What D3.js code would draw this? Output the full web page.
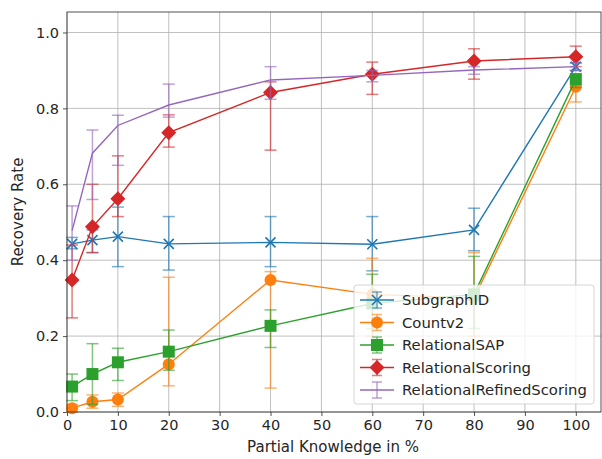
<!doctype html>
<html>
<head>
<meta charset="utf-8">
<style>
body { margin: 0; background: white; }
text { font-family: "DejaVu Sans", sans-serif; fill: #262626; }
</style>
<script src="https://cdnjs.cloudflare.com/ajax/libs/d3/7.8.5/d3.min.js"></script>
</head>
<body>
<div id="chart"></div>
<script>
var knowledge = [1, 5, 10, 20, 40, 60, 80, 100];
var xTicks = [0, 10, 20, 30, 40, 50, 60, 70, 80, 90, 100];
var yTicks = [0.0, 0.2, 0.4, 0.6, 0.8, 1.0];

// mean, upper and lower end of the error bar
var subgraphID    = [0.443, 0.453, 0.462, 0.443, 0.447, 0.442, 0.480, 0.910];
var subgraphIDHi  = [0.460, 0.480, 0.540, 0.515, 0.515, 0.515, 0.537, 0.920];
var subgraphIDLo  = [0.430, 0.420, 0.383, 0.374, 0.383, 0.372, 0.425, 0.900];

var countv2       = [0.010, 0.027, 0.033, 0.126, 0.348, 0.310, 0.300, 0.857];
var countv2Hi     = [0.020, 0.045, 0.050, 0.355, 0.370, 0.405, 0.420, 0.880];
var countv2Lo     = [0.000, 0.010, 0.015, 0.069, 0.063, 0.200, 0.200, 0.817];

var relSAP        = [0.067, 0.100, 0.131, 0.159, 0.227, 0.286, 0.310, 0.877];
var relSAPHi      = [0.100, 0.180, 0.168, 0.216, 0.269, 0.363, 0.410, 0.890];
var relSAPLo      = [0.030, 0.020, 0.083, 0.110, 0.170, 0.220, 0.220, 0.855];

var relScoring    = [0.348, 0.488, 0.562, 0.736, 0.842, 0.890, 0.925, 0.936];
var relScoringHi  = [0.440, 0.600, 0.675, 0.783, 0.870, 0.922, 0.957, 0.964];
var relScoringLo  = [0.248, 0.420, 0.515, 0.698, 0.690, 0.837, 0.877, 0.910];

var relRefined    = [0.478, 0.682, 0.755, 0.809, 0.875, 0.887, 0.901, 0.910];
var relRefinedHi  = [0.543, 0.743, 0.782, 0.864, 0.910, 0.900, 0.910, 0.920];
var relRefinedLo  = [0.400, 0.560, 0.650, 0.777, 0.824, 0.870, 0.890, 0.900];

var names  = ["SubgraphID", "Countv2", "RelationalSAP", "RelationalScoring", "RelationalRefinedScoring"];
var colors = ["#1f77b4", "#ff7f0e", "#2ca02c", "#d62728", "#9467bd"];
var shapes = ["x", "circle", "square", "diamond", "none"];
var means  = [subgraphID, countv2, relSAP, relScoring, relRefined];
var highs  = [subgraphIDHi, countv2Hi, relSAPHi, relScoringHi, relRefinedHi];
var lows   = [subgraphIDLo, countv2Lo, relSAPLo, relScoringLo, relRefinedLo];

var width = 602, height = 459;
var pLeft = 67, pTop = 12, pRight = 601, pBottom = 412;

var svg = d3.select("#chart").append("svg")
	.attr("width", width).attr("height", height);

var x = d3.scaleLinear().domain([0, 104.95]).range([pLeft, pRight]);
var y = d3.scaleLinear().domain([0, 1.054]).range([pBottom, pTop]);

// grid
svg.append("g").selectAll("line").data(xTicks).enter().append("line")
	.attr("x1", function(d) { return x(d); }).attr("x2", function(d) { return x(d); })
	.attr("y1", pTop).attr("y2", pBottom)
	.attr("stroke", "#b0b0b0").attr("stroke-width", 0.8);
svg.append("g").selectAll("line").data(yTicks).enter().append("line")
	.attr("y1", function(d) { return y(d); }).attr("y2", function(d) { return y(d); })
	.attr("x1", pLeft).attr("x2", pRight)
	.attr("stroke", "#b0b0b0").attr("stroke-width", 0.8);

// axes
var xAxis = svg.append("g").attr("transform", "translate(0," + pBottom + ")")
	.call(d3.axisBottom(x).tickValues(xTicks).tickSize(4).tickPadding(4).tickFormat(d3.format("d")));
var yAxis = svg.append("g").attr("transform", "translate(" + pLeft + ",0)")
	.call(d3.axisLeft(y).tickValues(yTicks).tickSize(4).tickPadding(4).tickFormat(d3.format(".1f")));
[xAxis, yAxis].forEach(function(a) {
	a.select(".domain").remove();
	a.selectAll("line").attr("stroke", "#262626").attr("stroke-width", 0.8);
	a.selectAll("text").style("font-size", "14.5px").attr("fill", "#262626");
});

function drawMarker(g, shape, color, cx, cy) {
	if (shape == "x") {
		var r = 5;
		g.append("path").attr("d", "M" + (cx - r) + "," + (cy - r) + "L" + (cx + r) + "," + (cy + r) +
			"M" + (cx - r) + "," + (cy + r) + "L" + (cx + r) + "," + (cy - r))
			.attr("stroke", color).attr("stroke-width", 1.6).attr("fill", "none");
	} else if (shape == "circle") {
		g.append("circle").attr("cx", cx).attr("cy", cy).attr("r", 6).attr("fill", color);
	} else if (shape == "square") {
		var h = 6;
		g.append("rect").attr("x", cx - h).attr("y", cy - h).attr("width", 2 * h).attr("height", 2 * h).attr("fill", color);
	} else if (shape == "diamond") {
		var d = 7.5;
		g.append("path").attr("d", "M" + cx + "," + (cy - d) + "L" + (cx + d) + "," + cy + "L" + cx + "," + (cy + d) + "L" + (cx - d) + "," + cy + "Z")
			.attr("fill", color);
	}
}

var line = d3.line().x(function(d) { return x(d[0]); }).y(function(d) { return y(d[1]); });

means.forEach(function(m, i) {
	var g = svg.append("g");
	var pts = knowledge.map(function(k, j) { return [k, m[j], highs[i][j], lows[i][j]]; });
	// error bars
	pts.forEach(function(p) {
		g.append("line").attr("x1", x(p[0])).attr("x2", x(p[0]))
			.attr("y1", y(p[2])).attr("y2", y(p[3]))
			.attr("stroke", colors[i]).attr("stroke-width", 1.5).attr("opacity", 0.6);
		[p[2], p[3]].forEach(function(v) {
			g.append("line").attr("x1", x(p[0]) - 6).attr("x2", x(p[0]) + 6)
				.attr("y1", y(v)).attr("y2", y(v))
				.attr("stroke", colors[i]).attr("stroke-width", 1.5).attr("opacity", 0.6);
		});
	});
	g.append("path").datum(pts).attr("d", line)
		.attr("fill", "none").attr("stroke", colors[i]).attr("stroke-width", 1.4);
	pts.forEach(function(p) { drawMarker(g, shapes[i], colors[i], x(p[0]), y(p[1])); });
});

// frame
svg.append("rect").attr("x", pLeft).attr("y", pTop).attr("width", pRight - pLeft).attr("height", pBottom - pTop)
	.attr("fill", "none").attr("stroke", "#262626").attr("stroke-width", 0.8);

// legend
var lg = svg.append("g").attr("transform", "translate(354,285)");
lg.append("rect").attr("width", 240).attr("height", 119).attr("rx", 3)
	.attr("fill", "white").attr("fill-opacity", 0.8).attr("stroke", "#cccccc").attr("stroke-width", 0.8);
names.forEach(function(n, i) {
	var ry = 15 + i * 22.5;
	var c = colors[i];
	lg.append("line").attr("x1", 6).attr("x2", 40).attr("y1", ry).attr("y2", ry)
		.attr("stroke", c).attr("stroke-width", 1.4);
	lg.append("line").attr("x1", 23).attr("x2", 23).attr("y1", ry - 8).attr("y2", ry + 8)
		.attr("stroke", c).attr("stroke-width", 1.5).attr("opacity", 0.6);
	[ry - 8, ry + 8].forEach(function(v) {
		lg.append("line").attr("x1", 18).attr("x2", 28).attr("y1", v).attr("y2", v)
			.attr("stroke", c).attr("stroke-width", 1.5).attr("opacity", 0.6);
	});
	drawMarker(lg, shapes[i], c, 23, ry);
	lg.append("text").attr("x", 48).attr("y", ry + 5).style("font-size", "14.8px").text(n);
});

// axis labels
svg.append("text").attr("x", (pLeft + pRight) / 2 - 1).attr("y", 452).attr("text-anchor", "middle")
	.style("font-size", "15px").text("Partial Knowledge in %");
svg.append("text").attr("transform", "translate(23," + ((pTop + pBottom) / 2) + ") rotate(-90)")
	.attr("text-anchor", "middle").style("font-size", "15px").text("Recovery Rate");
</script>
</body>
</html>
